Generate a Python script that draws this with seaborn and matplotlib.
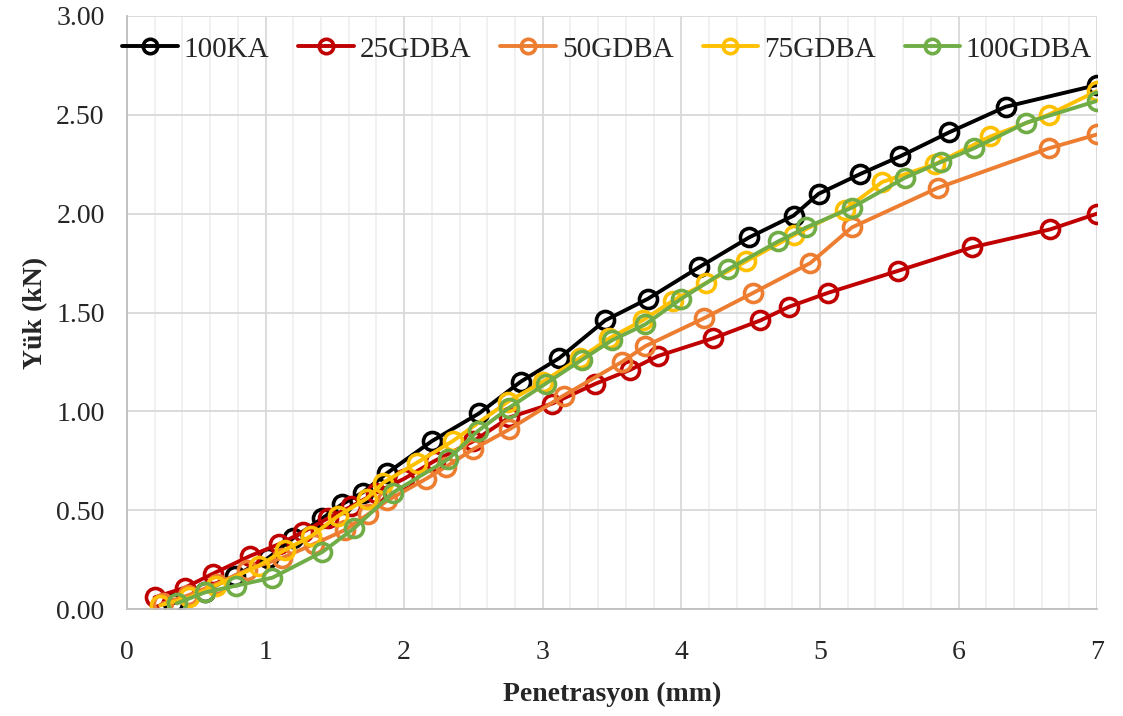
import matplotlib
matplotlib.use('Agg')
import matplotlib.pyplot as plt
import pandas as pd
import seaborn as sns
from matplotlib.ticker import MultipleLocator, FormatStrFormatter

# Data
ka100_x = [0.33, 0.56, 0.78, 1.02, 1.20, 1.41, 1.55, 1.70, 1.88, 2.20, 2.54, 2.84, 3.12,
           3.45, 3.76, 4.13, 4.49, 4.81, 4.99, 5.29, 5.58, 5.93, 6.34, 7.00]
ka100_y = [0.03, 0.09, 0.17, 0.26, 0.36, 0.46, 0.53, 0.59, 0.69, 0.85, 0.99, 1.15, 1.27,
           1.46, 1.57, 1.73, 1.88, 1.99, 2.10, 2.20, 2.29, 2.41, 2.54, 2.65]

g25_x = [0.20, 0.42, 0.62, 0.89, 1.10, 1.27, 1.45, 1.62, 1.80, 2.00, 2.22, 2.50, 2.76,
         3.07, 3.38, 3.63, 3.83, 4.23, 4.57, 4.78, 5.06, 5.56, 6.10, 6.66, 7.00]
g25_y = [0.06, 0.11, 0.18, 0.27, 0.33, 0.39, 0.46, 0.52, 0.59, 0.66, 0.75, 0.85, 0.97,
         1.04, 1.14, 1.21, 1.28, 1.37, 1.46, 1.53, 1.60, 1.71, 1.83, 1.92, 2.00]

g50_x = [0.26, 0.44, 0.65, 0.87, 1.12, 1.35, 1.57, 1.74, 1.88, 2.16, 2.30, 2.50, 2.76,
         3.15, 3.57, 3.74, 4.16, 4.52, 4.93, 5.23, 5.85, 6.65, 7.00]
g50_y = [0.03, 0.07, 0.13, 0.20, 0.26, 0.33, 0.40, 0.48, 0.55, 0.66, 0.72, 0.81, 0.91,
         1.08, 1.25, 1.33, 1.47, 1.60, 1.75, 1.93, 2.13, 2.33, 2.40]

g75_x = [0.24, 0.45, 0.64, 0.95, 1.14, 1.33, 1.52, 1.73, 1.85, 2.09, 2.35, 2.75, 3.00,
         3.27, 3.48, 3.72, 3.94, 4.18, 4.47, 4.81, 5.18, 5.45, 5.83, 6.23, 6.65, 7.00]
g75_y = [0.02, 0.06, 0.12, 0.22, 0.30, 0.37, 0.47, 0.56, 0.64, 0.74, 0.85, 1.05, 1.15,
         1.27, 1.37, 1.46, 1.56, 1.65, 1.76, 1.89, 2.02, 2.16, 2.25, 2.39, 2.50, 2.62]

g100_x = [0.36, 0.56, 0.79, 1.05, 1.41, 1.64, 1.92, 2.32, 2.53, 2.76, 3.02, 3.28, 3.50,
          3.74, 4.00, 4.34, 4.70, 4.90, 5.23, 5.61, 5.87, 6.11, 6.49, 7.00]
g100_y = [0.03, 0.085, 0.12, 0.16, 0.29, 0.41, 0.59, 0.76, 0.90, 1.02, 1.14, 1.26, 1.36,
          1.44, 1.57, 1.72, 1.86, 1.93, 2.03, 2.18, 2.26, 2.33, 2.46, 2.57]

names = ['100KA', '25GDBA', '50GDBA', '75GDBA', '100GDBA']
colors = ['#000000', '#C00000', '#ED7D31', '#FFC000', '#70AD47']
xs = [ka100_x, g25_x, g50_x, g75_x, g100_x]
ys = [ka100_y, g25_y, g50_y, g75_y, g100_y]

frames = []
for n, x, y in zip(names, xs, ys):
    frames.append(pd.DataFrame({'pen': x, 'yuk': y, 'seri': n}))
df = pd.concat(frames, ignore_index=True)

sns.set_style('white')
plt.rcParams['font.family'] = ['Liberation Serif', 'DejaVu Serif']

fig = plt.figure(figsize=(11.23, 7.16), dpi=100)
ax = fig.add_axes([0.113, 0.149, 0.864, 0.829])

sns.lineplot(data=df, x='pen', y='yuk', hue='seri', hue_order=names,
             palette=colors, marker='o', sort=False, errorbar=None,
             linewidth=2.8, markersize=13, legend=False, ax=ax)

# hollow circle markers in the series colour
for line, c in zip(ax.lines, colors):
    line.set_markerfacecolor('none')
    line.set_markeredgecolor(c)
    line.set_markeredgewidth(2.6)

ax.set_xlim(0, 7)
ax.set_ylim(0, 3)
ax.xaxis.set_major_locator(MultipleLocator(1))
ax.xaxis.set_minor_locator(MultipleLocator(0.2))
ax.yaxis.set_major_locator(MultipleLocator(0.5))
ax.yaxis.set_major_formatter(FormatStrFormatter('%.2f'))

ax.grid(which='major', axis='both', color='#d9d9d9', linewidth=1.3)
ax.grid(which='minor', axis='x', color='#ededed', linewidth=1.1)
ax.set_axisbelow(True)

for s in ['top', 'right']:
    ax.spines[s].set_visible(False)
ax.spines['left'].set_color('#bfbfbf')
ax.spines['bottom'].set_color('#bfbfbf')
ax.spines['left'].set_linewidth(1.3)
ax.spines['bottom'].set_linewidth(1.3)

ax.tick_params(axis='x', which='both', direction='out', length=6, color='#bfbfbf',
               width=1.2, labelsize=20, pad=16)
ax.tick_params(axis='y', which='both', length=0, labelsize=20, pad=16)

ax.set_xlabel('Penetrasyon (mm)', fontsize=20, fontweight='bold', labelpad=12)
ax.set_ylabel('Yük (kN)', fontsize=20, fontweight='bold', labelpad=6)

ax.legend(handles=ax.lines[:5], labels=names, loc='upper center',
          bbox_to_anchor=(0.495, 1.0), ncol=5, frameon=False, fontsize=21,
          handlelength=1.9, handletextpad=0.2, columnspacing=1.0, markerscale=0.8,
          borderaxespad=0.3)

fig.savefig('out.png', dpi=100)
